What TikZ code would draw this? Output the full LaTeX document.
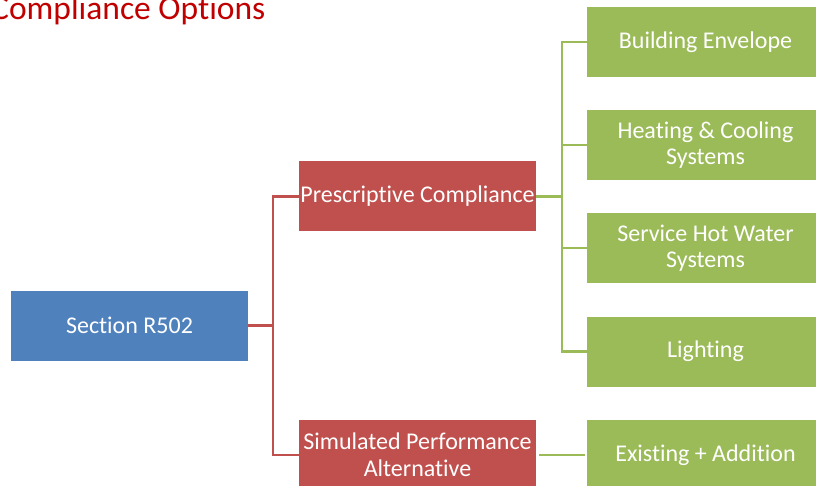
\documentclass[tikz,border=0pt]{standalone}
\usepackage{fontspec}
\setmainfont{Carlito}[Ligatures=NoCommon]
\usetikzlibrary{
	positioning		% Allows relative placement
	, calc
}

\definecolor{boxblue}{HTML}{4F81BD}
\definecolor{boxred}{HTML}{C0504D}
\definecolor{boxgreen}{HTML}{9BBB59}
\definecolor{titlered}{HTML}{C00000}

\begin{document}
\begin{tikzpicture}[
		x=1pt, y=-1pt
		, basebox/.style={rectangle, minimum width=237pt, minimum height=70pt, inner sep=0pt, text=white, align=center, font=\fontsize{24}{26.5}\selectfont}
		, sectionbox/.style={basebox, fill=boxblue}
		, pathbox/.style={basebox, fill=boxred}
		, topicbox/.style={basebox, fill=boxgreen}
		, redline/.style={draw=boxred, line width=2.4pt}
		, greenline/.style={draw=boxgreen, line width=2.4pt}]

		%%% Page size
		\useasboundingbox (0,0) rectangle (816,486);

		%% Title
		\node[anchor=base west, inner sep=0pt, text=titlered, font=\fontsize{33.5}{36}\selectfont] (title) at (-9,20) {Compliance Options};

		%%% Boxes
		\node[sectionbox] (section) at (129.5,325.5) {Section R502};
		\node[pathbox] (prescriptive) at (417.5,196.5) {Prescriptive Compliance};
		\node[pathbox] (simulated) at (417.5,455) {Simulated Performance\\Alternative};

		%% Topics of the prescriptive path
		\foreach \name/\ypos/\text in {envelope/42/Building Envelope, heating/145/{Heating \& Cooling\\Systems}, service/248/{Service Hot Water\\Systems}, lighting/351.5/Lighting} {
			\node[topicbox] (\name) at (705.5,\ypos) {\text};
		};
		\node[topicbox] (existing) at (705.5,455) {Existing + Addition};

		%%% Connectors
		\coordinate (redbranch) at (273,325.5);
		\coordinate (greenbranch) at (562,196.5);

		%% Section to its two paths
		\draw[redline] (section.east) -- (redbranch);
		\draw[redline] (prescriptive.west) -| (redbranch) |- (simulated.west);

		%% Prescriptive path to its topics
		\draw[greenline] (prescriptive.east) -- (greenbranch);
		\draw[greenline] (envelope.west) -| (greenbranch) |- (lighting.west);
		\draw[greenline] (greenbranch |- heating.west) -- (heating.west);
		\draw[greenline] (greenbranch |- service.west) -- (service.west);

		%% Simulated path
		\draw[greenline, shorten <=3pt, shorten >=2pt] (simulated.east) -- (existing.west);
	\end{tikzpicture}
\end{document}
